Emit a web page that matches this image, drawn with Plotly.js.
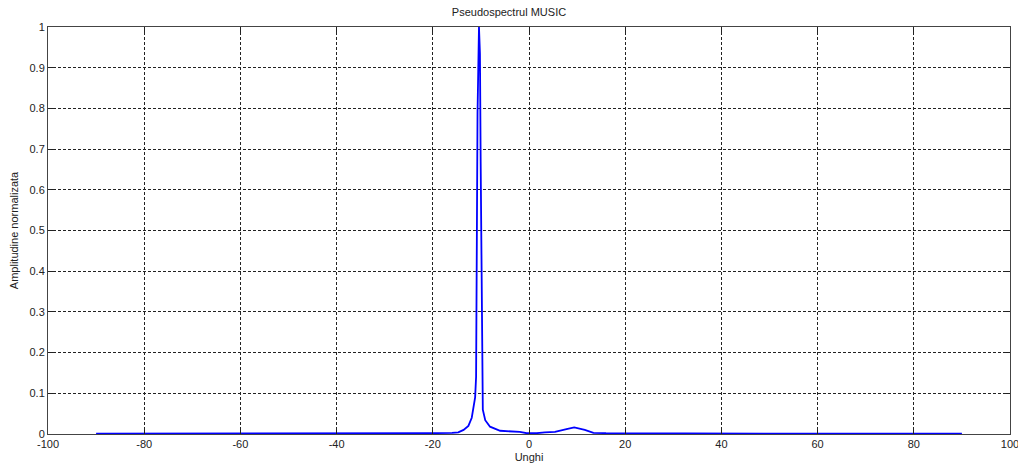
<!DOCTYPE html>
<html>
<head>
<meta charset="utf-8">
<script src="https://cdn.plot.ly/plotly-3.0.1.min.js"></script>
<style>html,body{margin:0;padding:0;background:#fff;}#chart{width:1018px;height:466px;}</style>
</head>
<body>
<div id="chart"></div>
<script>
// Angle (degrees) and normalized MUSIC pseudospectrum values
const angles = [-90, -70, -50, -30, -20, -16, -14.7, -13.6, -12.6, -11.9, -11.6, -11.2, -11.0, -10.9, -10.7, -10.4,
                -10.2, -10.05, -9.85, -9.75, -9.6, -9.1, -8.1, -6.0, -1.9, -0.5, 1.6, 3.3, 5.4, 7.8, 9.4, 11.6, 13.4, 16, 30, 50, 70, 90];
const amplitude = [0.001, 0.001, 0.001, 0.001, 0.002, 0.003, 0.004, 0.01, 0.02, 0.04, 0.06, 0.09, 0.14, 0.33, 0.79, 1.0,
                   0.935, 0.67, 0.30, 0.12, 0.06, 0.034, 0.018, 0.008, 0.005, 0.002, 0.002, 0.004, 0.005, 0.012, 0.016, 0.01, 0.003, 0.002, 0.001, 0.001, 0.001, 0.001];
const xTicks = [-100, -80, -60, -40, -20, 0, 20, 40, 60, 80, 100];
const yTicks = [0, 0.1, 0.2, 0.3, 0.4, 0.5, 0.6, 0.7, 0.8, 0.9, 1];
const yTickText = ['0', '0.1', '0.2', '0.3', '0.4', '0.5', '0.6', '0.7', '0.8', '0.9', '1'];

const font = {family: 'Liberation Sans, Arial, sans-serif', size: 11, color: '#222'};

const trace = {
  x: angles, y: amplitude, type: 'scatter', mode: 'lines',
  line: {color: '#0000ff', width: 1.8}, hoverinfo: 'skip'
};

const axisCommon = {
  showline: true, linecolor: '#444', linewidth: 1, mirror: 'ticks',
  ticks: 'inside', ticklen: 5, tickcolor: '#222', tickwidth: 1,
  showgrid: true, gridcolor: '#222', gridwidth: 1, griddash: '3px,2px',
  zeroline: false, tickfont: font, ticklabeloverflow: 'allow'
};

const layout = {
  width: 1018, height: 466,
  margin: {l: 48, r: 8, t: 27, b: 32},
  paper_bgcolor: '#fff', plot_bgcolor: '#fff',
  showlegend: false,
  font: font,
  title: {text: 'Pseudospectrul MUSIC', font: font, x: 0.5, xanchor: 'center', y: 0.975, yanchor: 'middle', yref: 'container'},
  xaxis: Object.assign({}, axisCommon, {
    range: [-100, 100], tickvals: xTicks, ticktext: xTicks.map(String),
    title: {text: 'Unghi', font: font, standoff: 4}
  }),
  yaxis: Object.assign({}, axisCommon, {
    range: [0, 1], tickvals: yTicks, ticktext: yTickText,
    title: {text: 'Amplitudine normalizata', font: font, standoff: 8}
  })
};

Plotly.newPlot('chart', [trace], layout, {staticPlot: true, displayModeBar: false});
</script>
</body>
</html>
